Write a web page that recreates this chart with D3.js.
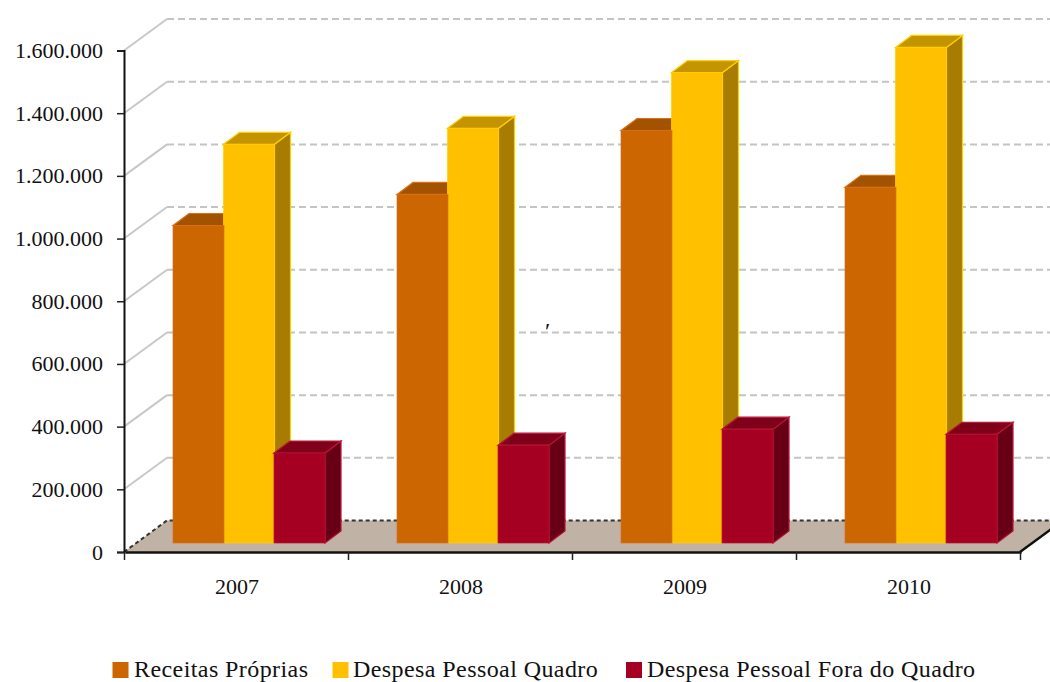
<!DOCTYPE html>
<html><head><meta charset="utf-8">
<script src="https://cdn.jsdelivr.net/npm/d3@7/dist/d3.min.js"></script>
<style>html,body{margin:0;padding:0;background:#fff}svg{display:block}text{font-family:"Liberation Serif",serif;fill:#111}</style>
</head><body><svg id="c" width="1050" height="682"></svg>
<script>
const years = ["2007","2008","2009","2010"];
const seriesNames = ["Receitas Próprias","Despesa Pessoal Quadro","Despesa Pessoal Fora do Quadro"];
const receitas = [1013000,1112000,1316000,1135000];
const quadro = [1272000,1323000,1501000,1581000];
const fora = [287000,312000,363000,347000];
const tickValues = [0,200000,400000,600000,800000,1000000,1200000,1400000,1600000];
const tickLabels = ["0","200.000","400.000","600.000","800.000","1.000.000","1.200.000","1.400.000","1.600.000"];
const palette = [
 {front:"#cc6600",top:"#a35200",side:"#a35200",edge:"#d9701a"},
 {front:"#ffc000",top:"#c49400",side:"#a87c00",edge:"#ffd000"},
 {front:"#a50021",top:"#7f0019",side:"#670014",edge:"#b8143a"}];
const svg=d3.select("#c");
const x=d3.scaleBand().domain(years).range([124,1020]);
const y=d3.scaleLinear().domain([0,1600000]).range([552,50.5]);
const depthX=43,depthY=-31.5, barDepthX=16,barDepthY=-12, baseShift=-9, barPad=49, barStep=50.5, bw=51;
const line=d3.line();
// floor
svg.append("path").attr("d",line([[124,552],[1020,552],[1020+depthX,552+depthY],[124+depthX,552+depthY]])+"Z").attr("fill","#c0b2a4");
// grid
const grid=svg.append("g");
tickValues.slice(1).forEach(v=>{
 grid.append("path").attr("d",line([[124,y(v)],[124+depthX,y(v)+depthY]])).attr("fill","none").attr("stroke","#c8c8c8").attr("stroke-width",2);
 grid.append("path").attr("d",line([[124+depthX,y(v)+depthY],[1020+depthX,y(v)+depthY]])).attr("fill","none").attr("stroke","#c4c4c4").attr("stroke-width",2).attr("stroke-dasharray","7 4");
});
svg.append("path").attr("d",line([[124,552],[124+depthX,552+depthY],[1020+depthX,552+depthY]])).attr("fill","none").attr("stroke","#333").attr("stroke-width",2).attr("stroke-dasharray","4 3");
// bars
const values=[receitas,quadro,fora];
const bars=svg.append("g");
function geom(s,i){
 const x0=x(years[i])+barPad+s*barStep;
 return {x0,x1:x0+bw,b:y(0)+baseShift,t:y(values[s][i])+baseShift,c:palette[s]};
}
function drawSide(g,s,i){const {x1,b,t,c}=geom(s,i);
 g.append("path").attr("d",line([[x1,t],[x1+barDepthX,t+barDepthY],[x1+barDepthX,b+barDepthY],[x1,b]])+"Z").attr("fill",c.side).attr("stroke",c.edge).attr("stroke-width",1.2);}
function drawTop(g,s,i){const {x0,x1,t,c}=geom(s,i);
 g.append("path").attr("d",line([[x0,t],[x0+barDepthX,t+barDepthY],[x1+barDepthX,t+barDepthY],[x1,t]])+"Z").attr("fill",c.top).attr("stroke",c.edge).attr("stroke-width",1.2);}
function drawFront(g,s,i){const {x0,b,t,c}=geom(s,i);
 g.append("rect").attr("x",x0).attr("y",t).attr("width",bw).attr("height",b-t).attr("fill",c.front).attr("stroke",c.edge).attr("stroke-width",0.7);}
years.forEach((yr,i)=>{
 const g=bars.append("g");
 drawTop(g,0,i);
 drawSide(g,1,i);drawTop(g,1,i);drawFront(g,1,i);
 drawFront(g,0,i);
 drawSide(g,2,i);drawTop(g,2,i);drawFront(g,2,i);
});
// axes
const yAxis=d3.axisLeft(y).tickValues(tickValues).tickFormat((d,i)=>tickLabels[i]).tickSize(7).tickPadding(14);
const gy=svg.append("g").attr("transform","translate(124,0)").call(yAxis);
gy.select(".domain").attr("stroke","#111").attr("stroke-width",2);
gy.selectAll(".tick line").attr("stroke","#222").attr("stroke-width",1.5);
gy.selectAll("text").attr("font-size",22).attr("font-family","Liberation Serif").attr("fill","#111");
const xAxis=d3.axisBottom(x).tickSize(0).tickPadding(26);
const gx=svg.append("g").attr("transform","translate(1,552)").call(xAxis);
gx.select(".domain").attr("stroke","#111").attr("stroke-width",2.5);
gx.selectAll("text").attr("font-size",22).attr("font-family","Liberation Serif").attr("fill","#111");
[...years.map(d=>x(d)),1020].forEach(px=>svg.append("path").attr("d",line([[px+0.5,552],[px+0.5,560]])).attr("stroke","#222").attr("stroke-width",1.5));
svg.append("path").attr("d",line([[1020,552],[1020+depthX,552+depthY]])).attr("stroke","#111").attr("stroke-width",2.5);
svg.append("text").attr("x",545).attr("y",339).attr("font-size",24).text("′");
// legend
const legendX=[112.5,332.5,626], legendText=[134,353,647];
seriesNames.forEach((n,i)=>{
 svg.append("rect").attr("x",legendX[i]).attr("y",662).attr("width",16).attr("height",16).attr("fill",palette[i].front);
 svg.append("text").attr("x",legendText[i]).attr("y",677).attr("font-size",24).attr("letter-spacing",0.42).text(n);
});
</script></body></html>
